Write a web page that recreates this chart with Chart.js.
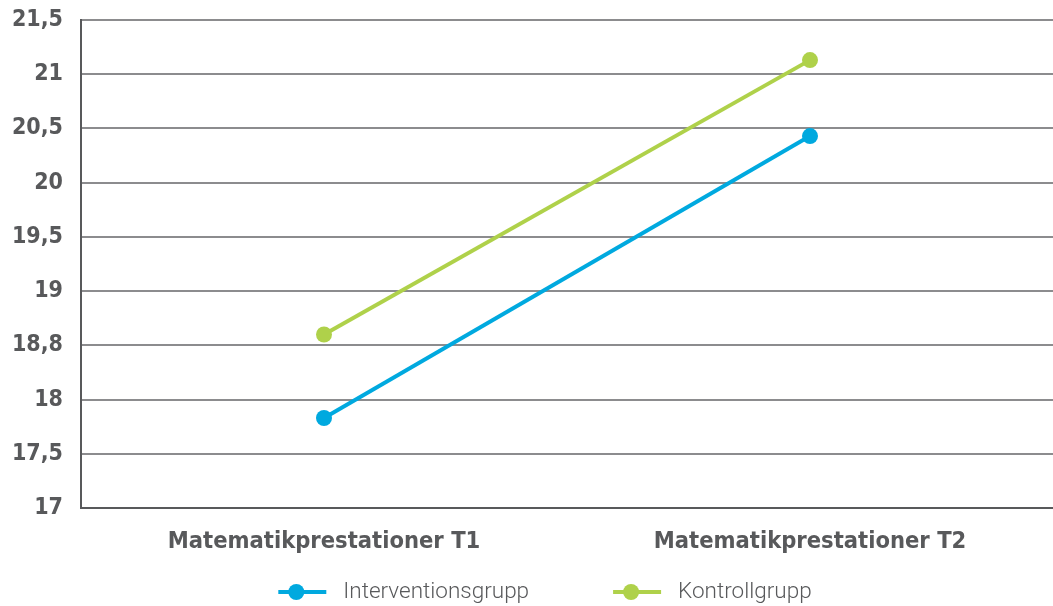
<!DOCTYPE html>
<html>
<head>
<meta charset="utf-8">
<script src="https://cdn.jsdelivr.net/npm/chart.js@4/dist/chart.umd.min.js"></script>
<style>
  html, body { margin: 0; padding: 0; background: #ffffff; overflow: hidden; }
</style>
</head>
<body>
<canvas id="c" width="1053" height="606"></canvas>
<script>
// Measurement occasions on the x axis
const categories = ['Matematikprestationer T1', 'Matematikprestationer T2'];

// Mean scores per group
const interventionValues = [17.83, 20.43];
const controlValues = [18.6, 21.13];

// Y-axis tick labels, bottom to top (17 ... 21,5 in steps of 0,5)
const yTickLabels = ['17', '17,5', '18', '18,8', '19', '19,5', '20', '20,5', '21', '21,5'];

const seriesNames = ['Interventionsgrupp', 'Kontrollgrupp'];
const BLUE = '#00a9df';
const GREEN = '#afd14a';
const TEXT = '#58595b';

// Legend row under the chart: line-with-dot marker followed by the series name
const lineLegend = {
  id: 'lineLegend',
  afterDraw(chart) {
    const g = chart.ctx;
    const font = '300 22.5px Roboto';
    const iconW = 48, gap = 17, spacing = 84;
    const centerX = 545, y = 592;
    g.save();
    g.font = font;
    const items = chart.data.datasets.map(ds => ({
      label: ds.label, color: ds.borderColor, w: g.measureText(ds.label).width
    }));
    let total = 0;
    items.forEach((it, i) => { total += iconW + gap + it.w + (i ? spacing : 0); });
    let x = centerX - total / 2;
    items.forEach((it, i) => {
      if (i) x += spacing;
      g.strokeStyle = it.color;
      g.lineWidth = 4;
      g.beginPath(); g.moveTo(x, y); g.lineTo(x + iconW, y); g.stroke();
      g.fillStyle = it.color;
      g.beginPath(); g.arc(x + 18, y, 8, 0, Math.PI * 2); g.fill();
      x += iconW + gap;
      g.fillStyle = TEXT;
      g.textBaseline = 'middle';
      g.textAlign = 'left';
      g.fillText(it.label, x, y);
      x += it.w;
    });
    g.restore();
  }
};

const ctx = document.getElementById('c');
new Chart(ctx, {
  type: 'line',
  data: {
    labels: categories,
    datasets: [
      {
        label: seriesNames[0],
        data: interventionValues,
        borderColor: BLUE,
        backgroundColor: BLUE,
        borderWidth: 4,
        pointRadius: 8,
        pointHoverRadius: 8,
        pointBorderWidth: 0
      },
      {
        label: seriesNames[1],
        data: controlValues,
        borderColor: GREEN,
        backgroundColor: GREEN,
        borderWidth: 4,
        pointRadius: 8,
        pointHoverRadius: 8,
        pointBorderWidth: 0
      }
    ]
  },
  plugins: [lineLegend],
  options: {
    responsive: false,
    animation: false,
    layout: { autoPadding: false, padding: { top: 0, right: 0, left: 0, bottom: 38 } },
    plugins: {
      tooltip: { enabled: false },
      legend: { display: false }
    },
    scales: {
      x: {
        offset: true,
        grid: { display: false, drawTicks: false },
        border: { display: true, color: '#58595b', width: 2 },
        ticks: {
          color: TEXT,
          padding: 20,
          font: { family: 'DejaVu Sans Condensed', size: 23.5, weight: 'bold' }
        },
        afterFit(scale) { scale.height = 60; }
      },
      y: {
        min: 17,
        max: 21.5,
        grid: { color: '#8c8c8e', lineWidth: 2, drawTicks: false },
        border: { display: true, color: '#58595b', width: 2 },
        ticks: {
          stepSize: 0.5,
          color: TEXT,
          padding: 18,
          font: { family: 'DejaVu Sans Condensed', size: 23, weight: 'bold' },
          callback: (v) => {
            const idx = Math.round((v - 17) / 0.5);
            return yTickLabels[idx];
          }
        },
        afterFit(scale) {
          scale.width = 81;
          scale.paddingTop = 20;
        }
      }
    }
  }
});
</script>
</body>
</html>
